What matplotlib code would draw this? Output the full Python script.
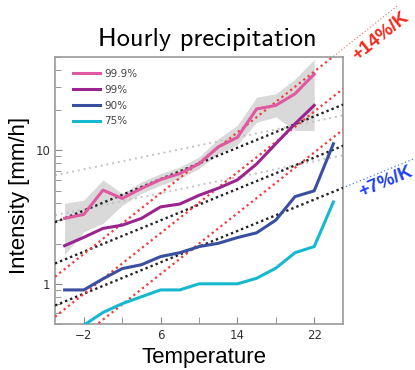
import numpy as np
import matplotlib
matplotlib.use("Agg")
import matplotlib.pyplot as plt
from matplotlib.ticker import FixedLocator, FixedFormatter, NullFormatter

# data
temps = [-4, -2, 0, 2, 4, 6, 8, 10, 12, 14, 16, 18, 20, 22, 24]
p999 = [3.09, 3.31, 5.03, 4.36, 5.18, 6.04, 6.7, 7.93, 10.6, 12.5, 20.4, 21.7, 26.5, 37.2]
p99 = [1.93, 2.23, 2.6, 2.75, 3.09, 3.77, 3.96, 4.6, 5.2, 6.0, 7.9, 11.2, 15.8, 21.7]
p90 = [0.9, 0.9, 1.09, 1.3, 1.39, 1.6, 1.71, 1.9, 2.01, 2.22, 2.41, 3.0, 4.5, 4.97, 11.2]
p75 = [0.49, 0.61, 0.71, 0.8, 0.9, 0.9, 1.0, 1.0, 1.0, 1.1, 1.31, 1.71, 1.9, 4.1]
band_lo = [1.65, 2.45, 2.84, 3.88, 4.75, 5.48, 6.15, 7.3, 9.4, 11.0, 16.2, 17.8, 14.1, 14.1]
band_hi = [4.0, 4.24, 6.0, 4.75, 5.8, 6.7, 7.5, 8.9, 12.2, 15.4, 25.0, 26.5, 34.2, 48.0]

# scaling reference lines: value at T=-5
cc14_start = [1.13, 0.567, 0.28]
cc7_start = [2.89, 1.42, 0.688]
cc35_start = [6.5, 3.27]

col999 = '#e0589f'
col99 = '#9b2590'
col90 = '#3a4f9f'
col75 = '#16b8cf'

fig = plt.figure(figsize=(4.15, 3.7), dpi=100)
ax = fig.add_axes([55/415, 1-324/370, 288/415, 267/370])

t = np.array(temps, dtype=float)
tl = np.linspace(-5, 25, 50)

ax.fill_between(t[:14], band_lo, band_hi, color='#d9d9d9', lw=0, zorder=1)

for v0 in cc35_start:
    ax.plot(tl, v0 * 1.035 ** (tl + 5), ls=(0, (1, 2)), color='#c4c4c4', lw=1.4, zorder=2)
for v0 in cc7_start:
    ax.plot(tl, v0 * 1.07 ** (tl + 5), ls=(0, (1, 1.3)), color='#222222', lw=1.7, zorder=3)
for v0 in cc14_start:
    ax.plot(tl, v0 * 1.14 ** (tl + 5), ls=(0, (1, 1.5)), color='#f23c3c', lw=1.6, zorder=3)

ax.plot(t[:14], p999, color=col999, lw=2.2, label='99.9%', zorder=4)
ax.plot(t[:14], p99, color=col99, lw=2.2, label='99%', zorder=4)
ax.plot(t, p90, color=col90, lw=2.2, label='90%', zorder=4)
ax.plot(t[1:], p75, color=col75, lw=2.2, label='75%', zorder=4)

# extensions outside the axes towards the labels
te = np.linspace(24, 30.8, 20)
ax.plot(te, cc14_start[0] * 1.14 ** (te + 5), ls=(0, (1, 2)), color='#e86a6a', lw=0.8, clip_on=False)
te = np.linspace(25.3, 32.6, 20)
ax.plot(te, cc7_start[2] * 1.07 ** (te + 5), ls=(0, (1, 2)), color='#4f7ff0', lw=0.9, clip_on=False)

ax.set_yscale('log')
ax.set_ylim(0.5, 50)
ax.set_xlim(-5, 25)
ax.xaxis.set_major_locator(FixedLocator([-2, 6, 14, 22]))
ax.xaxis.set_minor_locator(FixedLocator([2, 10, 18]))
ax.yaxis.set_major_locator(FixedLocator([1, 10]))
ax.yaxis.set_major_formatter(FixedFormatter(['1', '10']))
ax.yaxis.set_minor_formatter(NullFormatter())
ax.tick_params(which='both', direction='in', colors='#888888', labelcolor='#333333', labelsize=8.5)
ax.tick_params(which='both', length=5)
ax.tick_params(axis='y', which='minor', length=4)
for s in ax.spines.values():
    s.set_color('#999999')
    s.set_linewidth(1.2)

leg = ax.legend(loc='upper left', bbox_to_anchor=(0.03, 0.99), frameon=False, fontsize=7.5,
                handlelength=2.6, labelspacing=0.55, handletextpad=0.4)
for txt in leg.get_texts():
    txt.set_color('#444444')

fig.text(207/415, 1-46/370, 'Hourly precipitation', fontsize=19, family='cmss10', ha='center', va='baseline')
fig.text(204/415, 1-357/370, 'Temperature', fontsize=16, family='Liberation Sans', ha='center', va='center')
fig.text(20/415, 1-195/370, 'Intensity [mm/h]', fontsize=16, family='Liberation Sans', ha='center', va='center', rotation=90)
fig.text(381/415, 1-37/370, '+14%/K', fontsize=13.5, fontweight='bold', color='#f5281c', family='Liberation Sans',
         ha='center', va='center', rotation=38.7)
fig.text(386/415, 1-182/370, '+7%/K', fontsize=13.5, fontweight='bold', color='#1f3ff5', family='Liberation Sans',
         ha='center', va='center', rotation=22.5)

fig.savefig('out.png', dpi=100)
